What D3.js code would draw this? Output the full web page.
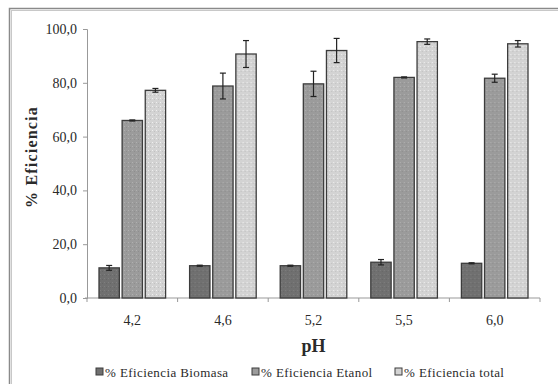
<!DOCTYPE html>
<html>
<head>
<meta charset="utf-8">
<script src="https://cdn.jsdelivr.net/npm/d3@7"></script>
<style>
  body { margin: 0; background: #fff; }
  svg text { font-family: "Liberation Serif", "DejaVu Serif", serif; fill: #2a2a2a; }
</style>
</head>
<body>
<div id="chart"></div>
<script>
var categories = ["4,2", "4,6", "5,2", "5,5", "6,0"];
var seriesNames = ["% Eficiencia Biomasa", "% Eficiencia Etanol", "% Eficiencia total"];
var biomasa = [11.2, 12.0, 12.0, 13.3, 12.9];
var biomasaErr = [0.9, 0.2, 0.2, 1.0, 0.2];
var etanol = [66.0, 78.8, 79.6, 82.0, 81.7];
var etanolErr = [0.2, 4.8, 4.7, 0.2, 1.5];
var total = [77.2, 90.7, 92.0, 95.3, 94.5];
var totalErr = [0.7, 5.0, 4.5, 1.0, 1.2];
var yTicks = [0, 20, 40, 60, 80, 100];

var values = [biomasa, etanol, total];
var errors = [biomasaErr, etanolErr, totalErr];
var fills = ["#707070", "#9b9b9b", "#d3d3d3"];

var W = 558, H = 384;
var margin = {top: 29, left: 87, right: 18, bottom: 86};
var width = W - margin.left - margin.right,
    height = H - margin.top - margin.bottom;

var svg = d3.select("#chart").append("svg")
    .attr("width", W)
    .attr("height", H);

// stipple patterns
var defs = svg.append("defs");
fills.forEach(function(c, i) {
  var p = defs.append("pattern")
      .attr("id", "pat" + i)
      .attr("width", 4).attr("height", 4)
      .attr("patternUnits", "userSpaceOnUse");
  p.append("rect").attr("width", 4).attr("height", 4).attr("fill", c);
  p.append("rect").attr("x", 1).attr("y", 1).attr("width", 1).attr("height", 1)
      .attr("fill", d3.color(c).brighter(0.35));
  p.append("rect").attr("x", 3).attr("y", 2).attr("width", 1).attr("height", 1)
      .attr("fill", d3.color(c).darker(0.25));
});

// outer frame
svg.append("rect").attr("x", 9.5).attr("y", 8.5).attr("width", 600).attr("height", 500)
    .attr("fill", "none").attr("stroke", "#8a8a8a").attr("stroke-width", 1.5);
svg.append("rect").attr("x", 11.5).attr("y", 10.5).attr("width", 600).attr("height", 500)
    .attr("fill", "none").attr("stroke", "#c8c8c8").attr("stroke-width", 1);

var g = svg.append("g")
    .attr("transform", "translate(" + margin.left + "," + margin.top + ")");

var x0 = d3.scaleBand()
    .domain(categories)
    .range([0, width]);

var x1 = d3.scaleBand()
    .domain(d3.range(seriesNames.length))
    .range([12, x0.bandwidth() - 12])
    .paddingInner(0.12);

var y = d3.scaleLinear()
    .domain([0, 100])
    .range([height, 0]);

var yAxis = d3.axisLeft(y)
    .tickValues(yTicks)
    .tickSize(4)
    .tickPadding(6)
    .tickFormat(function(d) { return d3.format(".1f")(d).replace(".", ","); });

var ya = g.append("g").attr("class", "y axis").call(yAxis);
ya.select(".domain").attr("stroke", "#999");
ya.selectAll(".tick line").attr("stroke", "#999");
ya.selectAll("text").style("font-size", "14px").attr("fill", "#2a2a2a")
    .style("font-family", "'Liberation Serif', serif");

// x axis with ticks at category boundaries
var xa = g.append("g").attr("class", "x axis")
    .attr("transform", "translate(0," + height + ")");
xa.append("line").attr("x1", -2).attr("x2", width).attr("stroke", "#999");
xa.selectAll("line.tk")
    .data(categories.concat(["end"]))
    .enter().append("line")
    .attr("class", "tk")
    .attr("x1", function(d, i) { return i * x0.step(); })
    .attr("x2", function(d, i) { return i * x0.step(); })
    .attr("y1", 0).attr("y2", 4)
    .attr("stroke", "#999");
xa.selectAll("text")
    .data(categories)
    .enter().append("text")
    .attr("x", function(d) { return x0(d) + x0.bandwidth() / 2; })
    .attr("y", 27)
    .attr("text-anchor", "middle")
    .style("font-size", "14px")
    .text(function(d) { return d; });

// bars
var groups = g.selectAll("g.cat")
    .data(categories)
    .enter().append("g")
    .attr("class", "cat")
    .attr("transform", function(d) { return "translate(" + x0(d) + ",0)"; });

groups.each(function(cat, ci) {
  var sel = d3.select(this);
  values.forEach(function(arr, si) {
    var v = arr[ci], e = errors[si][ci];
    var bx = x1(si), bw = x1.bandwidth();
    sel.append("rect")
        .attr("x", bx).attr("width", bw)
        .attr("y", y(v)).attr("height", height - y(v))
        .attr("fill", "url(#pat" + si + ")")
        .attr("stroke", "#3c3c3c").attr("stroke-width", 1.3);
    var cx = bx + bw / 2;
    var eb = sel.append("g").attr("stroke", "#222").attr("stroke-width", 1.2);
    eb.append("line").attr("x1", cx).attr("x2", cx).attr("y1", y(v + e)).attr("y2", y(v - e));
    eb.append("line").attr("x1", cx - 3).attr("x2", cx + 3).attr("y1", y(v + e)).attr("y2", y(v + e));
    eb.append("line").attr("x1", cx - 3).attr("x2", cx + 3).attr("y1", y(v - e)).attr("y2", y(v - e));
  });
});

// axis titles
svg.append("text")
    .attr("text-anchor", "middle")
    .attr("transform", "translate(37," + 157 + ") rotate(-90)")
    .style("font-size", "16px").style("font-weight", "bold").style("letter-spacing", "1.2px")
    .text("% Eficiencia");

svg.append("text")
    .attr("text-anchor", "middle")
    .attr("x", margin.left + width / 2)
    .attr("y", 352)
    .style("font-size", "18px").style("font-weight", "bold")
    .text("pH");

// legend
var legX = [96, 252, 395];
var leg = svg.selectAll("g.leg")
    .data(seriesNames)
    .enter().append("g")
    .attr("class", "leg")
    .attr("transform", function(d, i) { return "translate(" + legX[i] + ",372)"; });
leg.append("rect")
    .attr("x", 0).attr("y", -4).attr("width", 7).attr("height", 7)
    .attr("fill", function(d, i) { return fills[i]; })
    .attr("stroke", "#3c3c3c").attr("stroke-width", 1);
leg.append("text")
    .attr("x", 9).attr("y", 4.5)
    .style("font-size", "13px").style("letter-spacing", "0.4px")
    .text(function(d) { return d; });
</script>
</body>
</html>
